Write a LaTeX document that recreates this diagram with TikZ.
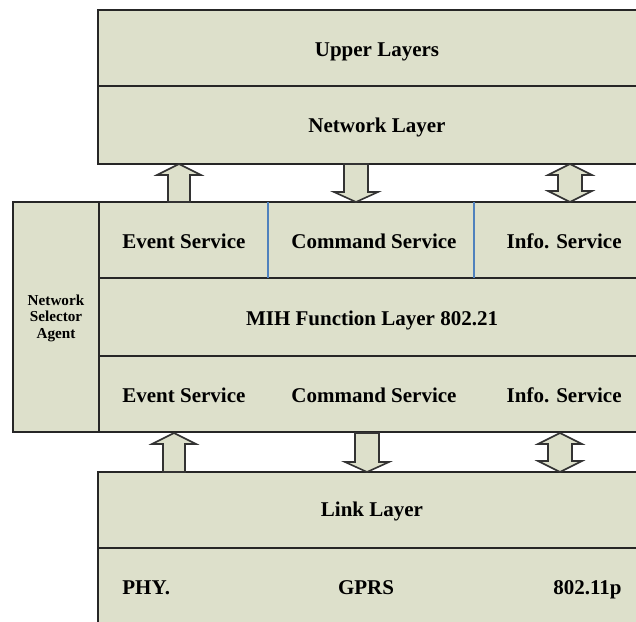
\documentclass[tikz,border=0pt]{standalone}
\usepackage{fontspec}
\setmainfont{Liberation Serif}
\definecolor{layerfill}{RGB}{221,224,203}
\definecolor{divblue}{RGB}{79,129,189}

\begin{document}
\begin{tikzpicture}[
    x=0.5pt, y=-0.5pt,
    layer/.style={
        fill=layerfill,
        draw=black!85,
        line width=0.8pt
    },
    divider/.style={
        draw=black!85,
        line width=0.8pt
    },
    layertext/.style={
        font=\fontsize{10.5}{12}\selectfont\bfseries,
        inner sep=0pt,
        anchor=base
    },
    agenttext/.style={
        font=\fontsize{7.6}{8.3}\selectfont\bfseries,
        align=center,
        inner sep=0pt
    },
    blk/.style={
        fill=layerfill,
        draw=black!80,
        line width=0.8pt
    },
    pics/uparr/.style={code={
        \draw[blk] (0,0) -- (22,11) -- (11,11) -- (11,#1) -- (-11,#1) -- (-11,11) -- (-22,11) -- cycle;
    }},
    pics/downarr/.style={code={
        \draw[blk] (0,0) -- (22,-10) -- (12,-10) -- (12,-#1) -- (-12,-#1) -- (-12,-10) -- (-22,-10) -- cycle;
    }},
    pics/botharr/.style={code={
        \draw[blk] (0,0) -- (22,11) -- (12,11) -- (12,{#1-11}) -- (22,{#1-11}) -- (0,#1)
            -- (-22,{#1-11}) -- (-12,{#1-11}) -- (-12,11) -- (-22,11) -- cycle;
    }}
]
    \useasboundingbox (0,0) rectangle (636,621);
    \clip (0,0) rectangle (636,621);

    % upper part
    \draw[layer] (98,10) rectangle (660,86);
    \draw[layer] (98,86) rectangle (660,164);
    \node[layertext] (upper) at (377,56) {Upper Layers};
    \node[layertext] (network) at (377,132) {Network Layer};

    % MIH block with agent column
    \draw[layer] (13,202) rectangle (660,432);
    \draw[divider] (99,202) -- (99,432);
    \draw[divider] (99,278) -- (660,278);
    \draw[divider] (99,356) -- (660,356);
    \draw[divblue, line width=0.6pt] (268,202) -- (268,278);
    \draw[divblue, line width=0.6pt] (474,202) -- (474,278);

    \node[agenttext] (agent) at (56,318) {Network\\Selector\\Agent};

    \node[layertext, anchor=base west] (eventup) at (122,248) {Event Service};
    \node[layertext] (commandup) at (374,248) {Command Service};
    \node[layertext, anchor=base east] (infoup) at (622,248) {Info. Service};

    \node[layertext] (mih) at (372,325) {MIH Function Layer 802.21};

    \node[layertext, anchor=base west] (eventdown) at (122,402) {Event Service};
    \node[layertext] (commanddown) at (374,402) {Command Service};
    \node[layertext, anchor=base east] (infodown) at (622,402) {Info. Service};

    % lower part
    \draw[layer] (98,472) rectangle (660,548);
    \draw[layer] (98,548) rectangle (660,630);
    \node[layertext] (link) at (372,516) {Link Layer};
    \node[layertext, anchor=base west] (phy) at (122,594) {PHY.};
    \node[layertext] (gprs) at (366,594) {GPRS};
    \node[layertext, anchor=base east] (wave) at (622,594) {802.11p};

    % block arrows
    \pic at (179,164) {uparr=38};
    \pic at (356,202) {downarr=38};
    \pic at (570,164) {botharr=38};

    \pic at (174,433) {uparr=39};
    \pic at (367,472) {downarr=39};
    \pic at (560,433) {botharr=39};
\end{tikzpicture}
\end{document}
